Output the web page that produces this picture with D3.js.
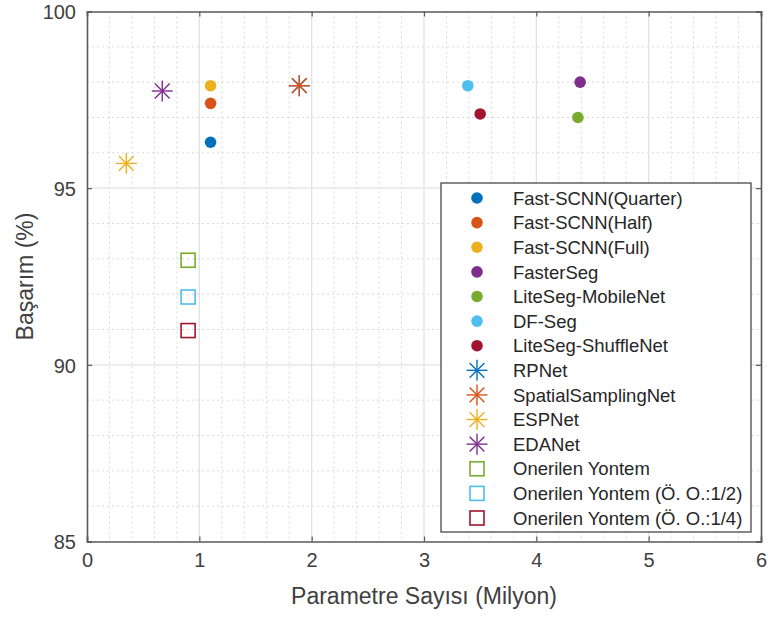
<!DOCTYPE html>
<html>
<head>
<meta charset="utf-8">
<script src="https://cdn.jsdelivr.net/npm/d3@7"></script>
<style>
  html, body { margin: 0; padding: 0; background: #fff; }
  svg { display: block; font-family: "Liberation Sans", Arial, Helvetica, sans-serif; }
</style>
</head>
<body>
<svg id="chart" width="768" height="617"></svg>
<script>
// ---- data ----
const models = [
  "Fast-SCNN(Quarter)", "Fast-SCNN(Half)", "Fast-SCNN(Full)", "FasterSeg",
  "LiteSeg-MobileNet", "DF-Seg", "LiteSeg-ShuffleNet", "RPNet",
  "SpatialSamplingNet", "ESPNet", "EDANet", "Onerilen Yontem",
  "Onerilen Yontem (Ö. O.:1/2)", "Onerilen Yontem (Ö. O.:1/4)"
];
const paramsMillion = [1.10, 1.10, 1.10, 4.39, 4.37, 3.39, 3.50, 1.89, 1.89, 0.35, 0.67, 0.90, 0.90, 0.90];
const accuracy = [96.3, 97.4, 97.9, 98.0, 97.0, 97.9, 97.1, 97.9, 97.9, 95.7, 97.75, 92.96, 91.92, 90.97];
const xTicks = [0, 1, 2, 3, 4, 5, 6];
const yTicks = [85, 90, 95, 100];
const xLabel = "Parametre Sayısı (Milyon)";
const yLabel = "Başarım (%)";

// ---- styles (separate from data) ----
const markerType = ["dot","dot","dot","dot","dot","dot","dot","star","star","star","star","square","square","square"];
const markerColor = ["#0072BD","#D95319","#EDB120","#7E2F8E","#77AC30","#4DBEEE","#A2142F",
                     "#0072BD","#D95319","#EDB120","#7E2F8E","#77AC30","#4DBEEE","#A2142F"];

const svg = d3.select("#chart");
const L = 87, R = 761, T = 11.5, B = 541.5;
const x = d3.scaleLinear().domain([0, 6]).range([L, R]);
const y = d3.scaleLinear().domain([85, 100]).range([B, T]);

// minor grid
const xMinor = d3.range(0, 6.0001, 0.2).filter(v => Math.abs(v - Math.round(v)) > 1e-6);
const yMinor = d3.range(85, 100.0001, 1).filter(v => v % 5 !== 0);
const grid = svg.append("g");
grid.selectAll(".xm").data(xMinor).join("line")
  .attr("x1", d => x(d)).attr("x2", d => x(d)).attr("y1", T).attr("y2", B)
  .attr("stroke", "#d9d9d9").attr("stroke-width", 1).attr("stroke-dasharray", "2,3");
grid.selectAll(".ym").data(yMinor).join("line")
  .attr("y1", d => y(d)).attr("y2", d => y(d)).attr("x1", L).attr("x2", R)
  .attr("stroke", "#d9d9d9").attr("stroke-width", 1).attr("stroke-dasharray", "2,3");
grid.selectAll(".xM").data(xTicks.slice(1, -1)).join("line")
  .attr("x1", d => x(d)).attr("x2", d => x(d)).attr("y1", T).attr("y2", B)
  .attr("stroke", "#e2e2e2").attr("stroke-width", 1.3);
grid.selectAll(".yM").data(yTicks.slice(1, -1)).join("line")
  .attr("y1", d => y(d)).attr("y2", d => y(d)).attr("x1", L).attr("x2", R)
  .attr("stroke", "#e2e2e2").attr("stroke-width", 1.3);

// axes with D3 axis generators
const axisColor = "#5a5a5a";
const xAxis = svg.append("g").attr("transform", `translate(0,${B})`)
  .call(d3.axisBottom(x).tickValues(xTicks).tickSize(-5).tickPadding(11).tickFormat(d3.format("d")));
const yAxis = svg.append("g").attr("transform", `translate(${L},0)`)
  .call(d3.axisLeft(y).tickValues(yTicks).tickSize(-5).tickPadding(11).tickFormat(d3.format("d")));
const xTop = svg.append("g").attr("transform", `translate(0,${T})`)
  .call(d3.axisTop(x).tickValues(xTicks).tickSize(-5).tickFormat(""));
const yRight = svg.append("g").attr("transform", `translate(${R},0)`)
  .call(d3.axisRight(y).tickValues(yTicks).tickSize(-5).tickFormat(""));
[xAxis, yAxis, xTop, yRight].forEach(g => {
  g.select(".domain").attr("stroke", axisColor).attr("stroke-width", 1.6);
  g.selectAll(".tick line").attr("stroke", axisColor).attr("stroke-width", 1.2);
  g.selectAll(".tick text").attr("fill", "#404040").attr("font-size", 20)
    .attr("font-family", "Liberation Sans, Arial, sans-serif");
});
yAxis.selectAll(".tick text").attr("dy", "0.36em");

// axis labels
svg.append("text").attr("x", (L + R) / 2).attr("y", 604).attr("text-anchor", "middle")
  .attr("font-size", 23).attr("fill", "#404040").text(xLabel);
svg.append("text").attr("transform", `translate(33,${(T + B) / 2}) rotate(-90)`)
  .attr("text-anchor", "middle").attr("font-size", 23).attr("fill", "#404040").text(yLabel);

// marker drawer
function drawMarker(g, type, color, cx, cy, scale) {
  if (type === "dot") {
    g.append("circle").attr("cx", cx).attr("cy", cy).attr("r", 5.8 * scale).attr("fill", color);
  } else if (type === "star") {
    const r = 10.5 * scale, d = 7.4 * scale;
    const segs = [[-r,0,r,0],[0,-r,0,r],[-d,-d,d,d],[-d,d,d,-d]];
    segs.forEach(s => g.append("line")
      .attr("x1", cx + s[0]).attr("y1", cy + s[1]).attr("x2", cx + s[2]).attr("y2", cy + s[3])
      .attr("stroke", color).attr("stroke-width", 1.4));
  } else {
    const h = 7 * scale;
    g.append("rect").attr("x", cx - h).attr("y", cy - h).attr("width", 2 * h).attr("height", 2 * h)
      .attr("fill", "none").attr("stroke", color).attr("stroke-width", 1.6);
  }
}

// points
const pts = svg.append("g");
models.forEach((m, i) => drawMarker(pts, markerType[i], markerColor[i], x(paramsMillion[i]), y(accuracy[i]), 1));

// legend
const lg = svg.append("g");
const lx0 = 441, ly0 = 183, lw = 310, lh = 349;
lg.append("rect").attr("x", lx0).attr("y", ly0).attr("width", lw).attr("height", lh)
  .attr("fill", "#fff").attr("stroke", "#3a3a3a").attr("stroke-width", 1.2);
const rowY = d3.scaleLinear().domain([0, models.length - 1]).range([198, 518]);
models.forEach((m, i) => {
  drawMarker(lg, markerType[i], markerColor[i], 477, rowY(i), 1);
  lg.append("text").attr("x", 513).attr("y", rowY(i)).attr("dy", "0.36em")
    .attr("font-size", 18.5).attr("fill", "#262626").text(m);
});
</script>
</body>
</html>
